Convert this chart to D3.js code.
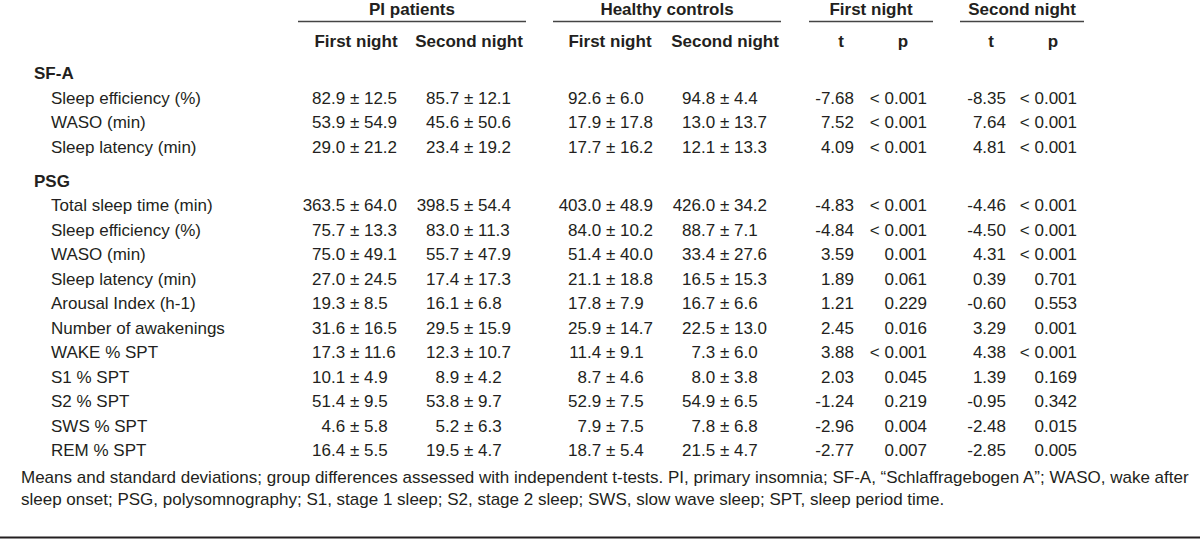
<!DOCTYPE html>
<html>
<head>
<meta charset="utf-8">
<script src="https://d3js.org/d3.v7.min.js"></script>
<style>
  body { margin: 0; background: #fff; }
  svg { display: block; }
  text { font-family: "Liberation Sans", Arial, sans-serif; fill: #231f20; }
  .head { font-weight: bold; font-size: 17px; }
  .cell { font-size: 17px; }
  .note { font-size: 17px; }
</style>
</head>
<body>
<svg width="1200" height="543"></svg>
<script>
const sections = ['SF-A', 'PSG'];

const rowLabels = [
  'Sleep efficiency (%)', 'WASO (min)', 'Sleep latency (min)',
  'Total sleep time (min)', 'Sleep efficiency (%)', 'WASO (min)', 'Sleep latency (min)',
  'Arousal Index (h-1)', 'Number of awakenings', 'WAKE % SPT', 'S1 % SPT',
  'S2 % SPT', 'SWS % SPT', 'REM % SPT'
];
const rowSection = [0, 0, 0, 1, 1, 1, 1, 1, 1, 1, 1, 1, 1, 1];

const piFirstMean  = [82.9, 53.9, 29.0, 363.5, 75.7, 75.0, 27.0, 19.3, 31.6, 17.3, 10.1, 51.4, 4.6, 16.4];
const piFirstSd    = [12.5, 54.9, 21.2, 64.0, 13.3, 49.1, 24.5, 8.5, 16.5, 11.6, 4.9, 9.5, 5.8, 5.5];
const piSecondMean = [85.7, 45.6, 23.4, 398.5, 83.0, 55.7, 17.4, 16.1, 29.5, 12.3, 8.9, 53.8, 5.2, 19.5];
const piSecondSd   = [12.1, 50.6, 19.2, 54.4, 11.3, 47.9, 17.3, 6.8, 15.9, 10.7, 4.2, 9.7, 6.3, 4.7];
const hcFirstMean  = [92.6, 17.9, 17.7, 403.0, 84.0, 51.4, 21.1, 17.8, 25.9, 11.4, 8.7, 52.9, 7.9, 18.7];
const hcFirstSd    = [6.0, 17.8, 16.2, 48.9, 10.2, 40.0, 18.8, 7.9, 14.7, 9.1, 4.6, 7.5, 7.5, 5.4];
const hcSecondMean = [94.8, 13.0, 12.1, 426.0, 88.7, 33.4, 16.5, 16.7, 22.5, 7.3, 8.0, 54.9, 7.8, 21.5];
const hcSecondSd   = [4.4, 13.7, 13.3, 34.2, 7.1, 27.6, 15.3, 6.6, 13.0, 6.0, 3.8, 6.5, 6.8, 4.7];

const tFirst  = [-7.68, 7.52, 4.09, -4.83, -4.84, 3.59, 1.89, 1.21, 2.45, 3.88, 2.03, -1.24, -2.96, -2.77];
const pFirst  = ['< 0.001', '< 0.001', '< 0.001', '< 0.001', '< 0.001', '0.001', '0.061', '0.229',
                 '0.016', '< 0.001', '0.045', '0.219', '0.004', '0.007'];
const tSecond = [-8.35, 7.64, 4.81, -4.46, -4.50, 4.31, 0.39, -0.60, 3.29, 4.38, 1.39, -0.95, -2.48, -2.85];
const pSecond = ['< 0.001', '< 0.001', '< 0.001', '< 0.001', '< 0.001', '< 0.001', '0.701', '0.553',
                 '0.001', '< 0.001', '0.169', '0.342', '0.015', '0.005'];

const groupHeaders = ['PI patients', 'Healthy controls', 'First night', 'Second night'];
const subHeaders = ['First night', 'Second night', 'First night', 'Second night', 't', 'p', 't', 'p'];

const footnote = [
  'Means and standard deviations; group differences assessed with independent t-tests. PI, primary insomnia; SF-A, \u201cSchlaffragebogen A\u201d; WASO, wake after',
  'sleep onset; PSG, polysomnography; S1, stage 1 sleep; S2, stage 2 sleep; SWS, slow wave sleep; SPT, sleep period time.'
];

const svg = d3.select('svg');

// vertical slots: section header then its rows, small gap between sections
const slotOf = [];
let slot = 0;
rowSection.forEach((s, i) => {
  if (i === 0 || rowSection[i - 1] !== s) {
    if (i > 0) slot += 0.4;
    slotOf.push({ header: s, slot: slot++ });
  }
  slotOf.push({ row: i, slot: slot++ });
});
const y = d3.scaleLinear().domain([0, 1]).range([79, 103.5]);

// group header spans
const groupSpan = [[298, 526], [553, 781], [809, 933], [960, 1084]];
const subX = d3.scaleOrdinal().domain(d3.range(8)).range([356, 469, 610, 725, 841, 903, 991, 1053]);

const head = svg.append('g');
head.selectAll('text.g')
  .data(groupHeaders)
  .join('text')
  .attr('class', 'head g')
  .attr('x', (d, i) => (groupSpan[i][0] + groupSpan[i][1]) / 2)
  .attr('y', 15)
  .attr('text-anchor', 'middle')
  .text(d => d);

head.selectAll('line')
  .data(groupSpan)
  .join('line')
  .attr('x1', d => d[0])
  .attr('x2', d => d[1])
  .attr('y1', 21.5)
  .attr('y2', 21.5)
  .attr('stroke', '#444')
  .attr('stroke-width', 1.5);

head.selectAll('text.s')
  .data(subHeaders)
  .join('text')
  .attr('class', 'head s')
  .attr('x', (d, i) => subX(i))
  .attr('y', 47)
  .attr('text-anchor', 'middle')
  .text(d => d);

// section headers and row labels
const body = svg.append('g');
body.selectAll('text.sec')
  .data(slotOf.filter(d => d.header !== undefined))
  .join('text')
  .attr('class', 'head sec')
  .attr('x', 34)
  .attr('y', d => y(d.slot))
  .text(d => sections[d.header]);

const rows = slotOf.filter(d => d.row !== undefined);
body.selectAll('text.lab')
  .data(rows)
  .join('text')
  .attr('class', 'cell lab')
  .attr('x', 51)
  .attr('y', d => y(d.slot))
  .text(d => rowLabels[d.row]);

// mean ± sd columns, aligned on the decimal point of the mean
const f1 = d3.format('.1f');
const meanCols = [
  { m: piFirstMean, s: piFirstSd }, { m: piSecondMean, s: piSecondSd },
  { m: hcFirstMean, s: hcFirstSd }, { m: hcSecondMean, s: hcSecondSd }
];
const decX = d3.scaleOrdinal().domain(d3.range(4)).range([331, 445, 587, 701]);

meanCols.forEach((col, c) => {
  const g = body.append('g');
  g.selectAll('text.int')
    .data(rows)
    .join('text')
    .attr('class', 'cell int')
    .attr('x', decX(c))
    .attr('y', d => y(d.slot))
    .attr('text-anchor', 'end')
    .text(d => f1(col.m[d.row]).split('.')[0]);
  g.selectAll('text.rest')
    .data(rows)
    .join('text')
    .attr('class', 'cell rest')
    .attr('x', decX(c))
    .attr('y', d => y(d.slot))
    .text(d => '.' + f1(col.m[d.row]).split('.')[1] + ' \u00b1 ' + f1(col.s[d.row]));
});

// t and p columns, right aligned
const tp = [
  { v: tFirst.map(d => d.toFixed(2)), x: 854 },
  { v: pFirst, x: 927 },
  { v: tSecond.map(d => d.toFixed(2)), x: 1006 },
  { v: pSecond, x: 1077 }
];
tp.forEach(col => {
  body.append('g').selectAll('text')
    .data(rows)
    .join('text')
    .attr('class', 'cell')
    .attr('x', col.x)
    .attr('y', d => y(d.slot))
    .attr('text-anchor', 'end')
    .text(d => col.v[d.row]);
});

// footnote and bottom rule
svg.append('g').selectAll('text')
  .data(footnote)
  .join('text')
  .attr('class', 'note')
  .attr('x', 21)
  .attr('y', (d, i) => 483 + i * 22)
  .text(d => d);

svg.append('line')
  .attr('x1', 0).attr('x2', 1200)
  .attr('y1', 537.5).attr('y2', 537.5)
  .attr('stroke', '#231f20')
  .attr('stroke-width', 2);
</script>
</body>
</html>
